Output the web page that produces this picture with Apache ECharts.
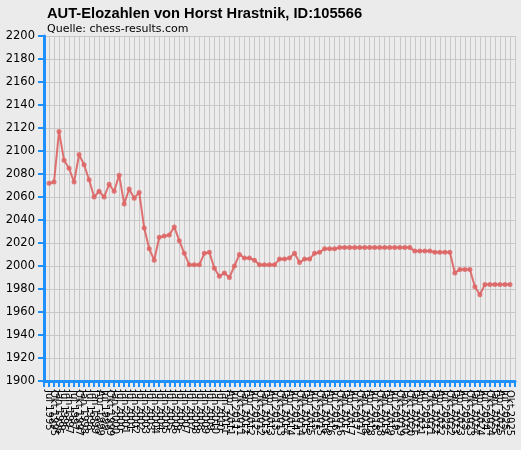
<!DOCTYPE html>
<html lang="de">
<head>
  <meta charset="UTF-8">
  <title>AUT-Elozahlen</title>
  <script src="https://cdn.jsdelivr.net/npm/echarts@6/dist/echarts.min.js"></script>
  <style>
    html, body { margin: 0; padding: 0; background: #ebebeb; }
    #main { width: 521px; height: 450px; }
  </style>
</head>
<body>
<div id="main"></div>
<script>
  // Ranglisten-Termine
  var lists = [
    'Jul 1995', 'Okt 1995', 'Jan 1996', 'Jul 1996', 'Jan 1997', 'Jul 1997', 'Okt 1997', 'Jan 1998',
    'Jul 1998', 'Jan 1999', 'Apr 1999', 'Jul 1999', 'Okt 1999', 'Jan 2000', 'Jul 2000', 'Jan 2001',
    'Jul 2001', 'Jan 2002', 'Jul 2002', 'Jan 2003', 'Jul 2003', 'Jan 2004', 'Jul 2004', 'Jan 2005',
    'Jul 2005', 'Jan 2006', 'Jul 2006', 'Jan 2007', 'Jul 2007', 'Jan 2008', 'Jul 2008', 'Jan 2009',
    'Jul 2009', 'Jan 2010', 'Jul 2010', 'Jan 2011', 'Apr 2011', 'Jul 2011', 'Okt 2011', 'Jan 2012',
    'Apr 2012', 'Jul 2012', 'Okt 2012', 'Jan 2013', 'Apr 2013', 'Jul 2013', 'Okt 2013', 'Jan 2014',
    'Apr 2014', 'Jul 2014', 'Okt 2014', 'Jan 2015', 'Apr 2015', 'Jul 2015', 'Okt 2015', 'Jan 2016',
    'Apr 2016', 'Jul 2016', 'Okt 2016', 'Jan 2017', 'Apr 2017', 'Jul 2017', 'Okt 2017', 'Jan 2018',
    'Apr 2018', 'Jul 2018', 'Okt 2018', 'Jan 2019', 'Apr 2019', 'Jul 2019', 'Okt 2019', 'Jan 2020',
    'Okt 2020', 'Jan 2021', 'Apr 2021', 'Jul 2021', 'Okt 2021', 'Jan 2022', 'Apr 2022', 'Jul 2022',
    'Okt 2022', 'Jan 2023', 'Apr 2023', 'Jul 2023', 'Okt 2023', 'Jan 2024', 'Apr 2024', 'Jul 2024',
    'Okt 2024', 'Jan 2025', 'Apr 2025', 'Jul 2025', 'Okt 2025'
  ];

  // Elo-Werte
  var elo = [
    2072, 2073, 2117, 2092, 2085, 2073, 2097, 2088, 2075, 2060,
    2065, 2060, 2071, 2065, 2079, 2054, 2067, 2059, 2064, 2033,
    2015, 2005, 2025, 2026, 2027, 2034, 2022, 2011, 2001, 2001,
    2001, 2011, 2012, 1998, 1991, 1994, 1990, 2000, 2010, 2007,
    2007, 2005, 2001, 2001, 2001, 2001, 2006, 2006, 2007, 2011,
    2003, 2006, 2006, 2011, 2012, 2015, 2015, 2015, 2016, 2016,
    2016, 2016, 2016, 2016, 2016, 2016, 2016, 2016, 2016, 2016,
    2016, 2016, 2016, 2013, 2013, 2013, 2013, 2012, 2012, 2012,
    2012, 1994, 1997, 1997, 1997, 1982, 1975, 1984, 1984, 1984,
    1984, 1984, 1984
  ];

  var yTicks = { min: 1900, max: 2200, step: 20 };

  // leere Kategorie vorne und hinten als Rand
  var cats = [''].concat(lists, ['']);
  var vals = ['-'].concat(elo, ['-']);

  var blue = '#1e90ff';
  var chart = echarts.init(document.getElementById('main'));
  chart.setOption({
    backgroundColor: '#ebebeb',
    animation: false,
    title: {
      text: 'AUT-Elozahlen von Horst Hrastnik, ID:105566',
      subtext: 'Quelle: chess-results.com',
      left: 42,
      top: 1,
      itemGap: 3,
      textStyle: { fontFamily: 'Liberation Sans', fontSize: 14.7, fontWeight: 'bold', color: '#000' },
      subtextStyle: { fontFamily: 'DejaVu Sans', fontSize: 11, color: '#000' }
    },
    grid: { left: 44, right: 6, top: 36, bottom: 69, show: true, backgroundColor: '#ececec', borderWidth: 0 },
    xAxis: {
      type: 'category',
      data: cats,
      boundaryGap: false,
      axisLine: { lineStyle: { color: blue, width: 3 } },
      axisTick: { interval: 0, length: 6, lineStyle: { color: blue, width: 2 } },
      axisLabel: {
        interval: 0, rotate: -90, margin: 9, fontSize: 10,
        fontFamily: 'DejaVu Sans', color: '#000'
      },
      splitLine: { show: true, interval: 0, lineStyle: { color: '#c8c8c8', width: 1 } }
    },
    yAxis: {
      type: 'value',
      min: yTicks.min,
      max: yTicks.max,
      interval: yTicks.step,
      axisLine: { show: true, lineStyle: { color: blue, width: 3 } },
      axisTick: { show: true, length: 6, lineStyle: { color: blue, width: 2 } },
      axisLabel: {
        fontSize: 11.5, fontFamily: 'DejaVu Sans', color: '#000', margin: 9,
        formatter: function (v) { return String(v); }
      },
      splitLine: { lineStyle: { color: '#c8c8c8', width: 1 } }
    },
    series: [{
      type: 'line',
      data: vals,
      symbol: 'circle',
      symbolSize: 5,
      lineStyle: { color: 'rgba(221,90,90,0.85)', width: 2 },
      itemStyle: { color: 'rgba(221,100,100,0.85)' }
    }]
  });
</script>
</body>
</html>
